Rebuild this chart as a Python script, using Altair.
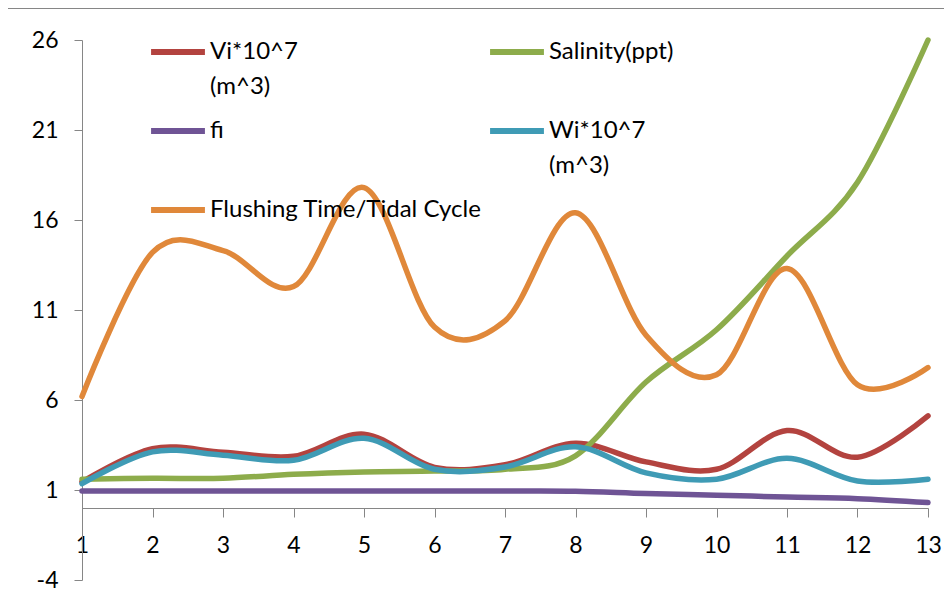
import altair as alt
import pandas as pd

# ---- data ----
x_vals = list(range(1, 14))
vi = [1.45, 3.3, 3.1, 2.87, 4.1, 2.26, 2.4, 3.6, 2.56, 2.15, 4.3, 2.82, 5.12]
salinity = [1.6, 1.65, 1.65, 1.87, 2.0, 2.05, 2.15, 2.9, 7.0, 9.9, 14.0, 18.1, 26.0]
fi = [0.94, 0.94, 0.94, 0.94, 0.94, 0.94, 0.94, 0.93, 0.8, 0.71, 0.61, 0.52, 0.3]
wi = [1.35, 3.12, 2.93, 2.65, 3.87, 2.15, 2.28, 3.4, 1.95, 1.6, 2.76, 1.5, 1.6]
flushing = [6.2, 14.2, 14.3, 12.3, 17.8, 10.05, 10.4, 16.4, 9.6, 7.4, 13.3, 6.85, 7.8]

series_names = ["Vi*10^7 (m^3)", "Salinity(ppt)", "fi", "Wi*10^7 (m^3)",
                "Flushing Time/Tidal Cycle"]
series_values = [vi, salinity, fi, wi, flushing]
series_colors = ["#B3433F", "#8DAC4B", "#6F5495", "#3F9BB5", "#E0883A"]
# legend is filled column by column: col 1 = Vi, fi, Flushing; col 2 = Salinity, Wi
legend_order = [0, 2, 4, 1, 3]
y_ticks = [-4, 1, 6, 11, 16, 21, 26]

rows = []
for name, vals in zip(series_names, series_values):
    for xv, v in zip(x_vals, vals):
        rows.append({"x": xv, "value": v, "series": name})
df = pd.DataFrame(rows)

W, H = 936, 590
FONT = "Lato"
AXIS_GRAY = "#868686"
LABEL_DY = -12  # shared guide-label shift, used to align two-line legend labels

color = alt.Color(
    "series:N",
    scale=alt.Scale(domain=[series_names[i] for i in legend_order],
                    range=[series_colors[i] for i in legend_order]),
    legend=alt.Legend(
        title=None, orient="none", legendX=140, legendY=14, columns=2,
        gridAlign="each",
        symbolType="stroke", symbolSize=2900, symbolStrokeWidth=6,
        labelFont=FONT, labelFontSize=24, labelColor="black",
        labelLimit=500, labelBaseline="top", labelOffset=2,
        rowPadding=2, columnPadding=-4,
        labelExpr=("indexof(datum.label, ' (m') > 0 ? "
                   "[slice(datum.label, 0, indexof(datum.label, ' (m')), "
                   "slice(datum.label, indexof(datum.label, ' (m') + 1)] : "
                   "[datum.label, ' ']"),
    ),
)

x_enc = alt.X(
    "x:Q",
    scale=alt.Scale(domain=[1, 13], range=[74, 920], nice=False, zero=False),
    axis=alt.Axis(values=x_vals, format="d", title=None, offset=-90, grid=False,
                  domainColor=AXIS_GRAY, tickColor=AXIS_GRAY, tickSize=9,
                  labelPadding=17 - LABEL_DY, labelFont=FONT, labelFontSize=23,
                  labelColor="black", labelFlush=False, labelOverlap=False),
)
y_enc = alt.Y(
    "value:Q",
    scale=alt.Scale(domain=[-4, 26], range=[572, 32], nice=False, zero=False),
    axis=alt.Axis(values=y_ticks, title=None, offset=-74, grid=False,
                  domainColor=AXIS_GRAY, tickColor=AXIS_GRAY, tickSize=8,
                  labelPadding=16, labelOffset=-LABEL_DY, labelFont=FONT,
                  labelFontSize=23, labelColor="black", labelOverlap=False,
                  labelExpr="'' + datum.value"),
)

layers = []
for name in series_names:
    layers.append(
        alt.Chart(df)
        .transform_filter(alt.datum.series == name)
        .mark_line(interpolate="cardinal", strokeWidth=5.5, strokeCap="round")
        .encode(x=x_enc, y=y_enc, color=color)
    )

blank = alt.Data(values=[{}])
border_left = alt.Chart(blank).mark_rule(color=AXIS_GRAY, strokeWidth=1).encode(
    x=alt.value(-0.5), y=alt.value(0), y2=alt.value(H + 20))
border_top = alt.Chart(blank).mark_rule(color=AXIS_GRAY, strokeWidth=1).encode(
    y=alt.value(0.5), x=alt.value(-0.5), x2=alt.value(W + 20))

chart = (
    alt.layer(border_left, border_top, *layers)
    .properties(width=W, height=H, autosize="none", padding=0)
    .configure(background="white",
               style={"guide-label": {"lineHeight": 35, "dy": LABEL_DY}})
    .configure_view(stroke="transparent")
)

chart.save("out.html", embed_options={"renderer": "svg", "actions": False})
